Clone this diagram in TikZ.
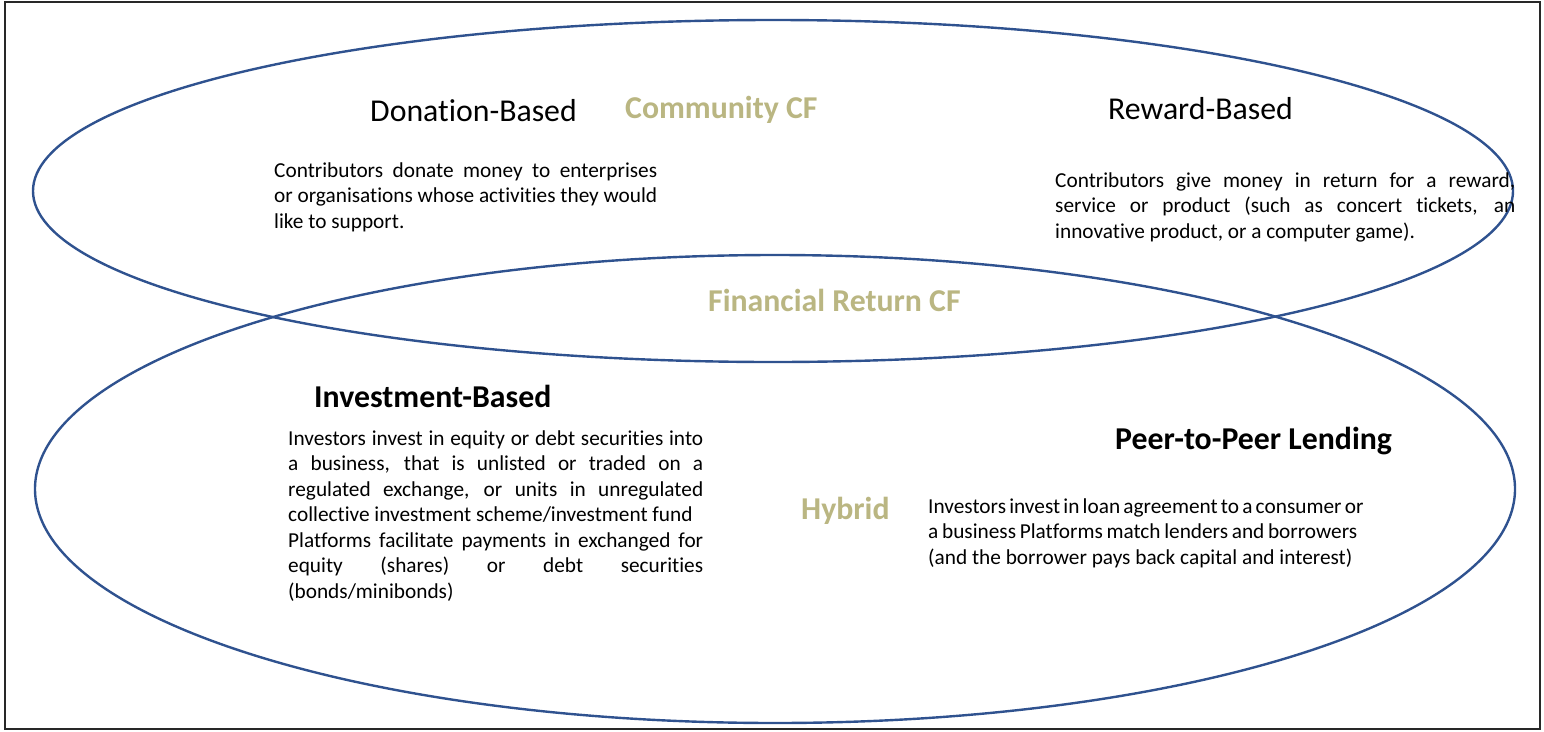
\documentclass[tikz,border=0pt]{standalone}
\usepackage{fontspec}
\setmainfont{Carlito}[Ligatures={NoCommon}]
\usetikzlibrary{shapes.geometric}
\definecolor{ellblue}{RGB}{47,82,143}
\definecolor{cfolive}{RGB}{186,182,130}
\definecolor{framegray}{RGB}{40,40,40}
\begin{document}
\begin{tikzpicture}[x=1pt,y=-1pt,
  frame/.style={draw=framegray,line width=2.2pt},
  ell/.style={ellipse,draw=ellblue,line width=2.4pt,inner sep=0pt},
  head/.style={anchor=base west,inner sep=0pt,font=\fontsize{31.8}{37}\selectfont},
  headb/.style={anchor=base west,inner sep=0pt,font=\fontsize{31.8}{37}\selectfont\bfseries},
  cat/.style={headb,text=cfolive},
  body/.style={anchor=base west,inner sep=0pt,font=\fontsize{21.3}{25.5}\selectfont}]
\useasboundingbox (0,0) rectangle (1544,731);
\draw[frame] (5,2) rectangle (1540,729);
\node[ell,minimum width=1480pt,minimum height=342pt] (upper) at (773,191) {};
\node[ell,minimum width=1480pt,minimum height=468pt] (lower) at (775,489) {};
% headings
\node[head] (donh) at (370,121) {Donation-Based};
\node[cat] (comm) at (625,118) {Community CF};
\node[head] (rewh) at (1108,119) {Reward-Based};
\node[cat] (fin) at (708,311) {Financial Return CF};
\node[headb] (invh) at (314,407) {Investment-Based};
\node[headb] (p2ph) at (1115,449) {Peer-to-Peer Lending};
\node[cat] (hyb) at (801,519) {Hybrid};
% body texts
\node[body] (dont) at (274,177) {\parbox[t]{383pt}{%
\makebox[383pt][s]{Contributors donate money to enterprises}\\
\makebox[383pt][s]{or organisations whose activities they would}\\
like to support.}};
\node[body] (rewt) at (1055,187) {\parbox[t]{460pt}{%
\makebox[460pt][s]{Contributors give money in return for a reward,}\\
\makebox[460pt][s]{service or product (such as concert tickets, an}\\
innovative product, or a computer game).}};
\node[body] (invt) at (288,445) {\parbox[t]{415pt}{%
\makebox[415pt][s]{Investors invest in equity or debt securities into}\\
\makebox[415pt][s]{a business, that is unlisted or traded on a}\\
\makebox[415pt][s]{regulated exchange, or units in unregulated}\\
collective investment scheme/investment fund\\
\makebox[415pt][s]{Platforms facilitate payments in exchanged for}\\
\makebox[415pt][s]{equity (shares) or debt securities}\\
(bonds/minibonds)}};
\node[body] (p2pt) at (928,513) {\parbox[t]{429pt}{%
\makebox[429pt][s]{Investors invest in loan agreement to a consumer or}\\
\makebox[429pt][s]{a business Platforms match lenders and borrowers}\\
(and the borrower pays back capital and interest)}};
\end{tikzpicture}
\end{document}
